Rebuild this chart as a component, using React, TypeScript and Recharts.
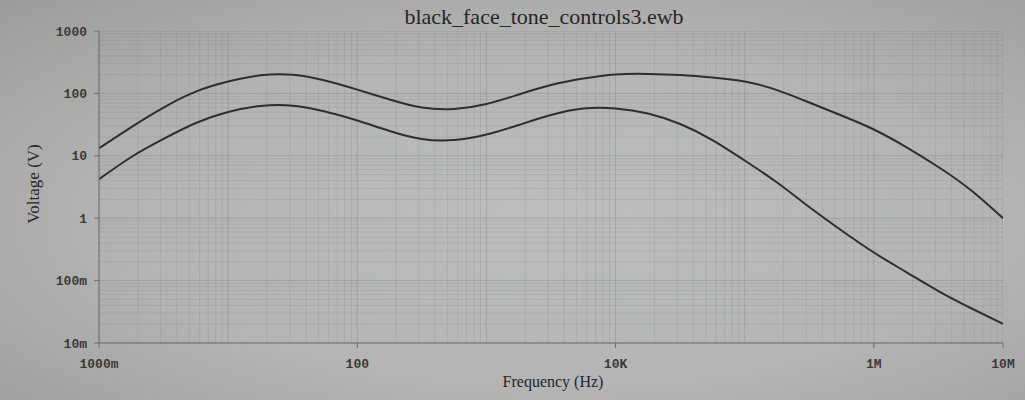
import { LineChart, Line, XAxis, YAxis, ReferenceLine } from "recharts";

// quarter-decade frequency points (Hz) and the two voltage traces
const freqs = [
  1, 1.78, 3.16, 5.62, 10, 17.8, 31.6, 56.2, 100, 178, 316, 562, 1000, 1780, 3160, 5620,
  1e4, 1.78e4, 3.16e4, 5.62e4, 1e5, 1.78e5, 3.16e5, 5.62e5, 1e6, 1.78e6, 3.16e6, 5.62e6, 1e7,
];
const upperV = [
  13.2, 28.9, 59.4, 107, 155, 195, 199, 161, 115, 79.8, 59.4, 56.2, 67.6, 96, 136, 173,
  201, 205, 197, 180, 155, 113, 71.5, 44.3, 26.4, 13.8, 6.61, 2.83, 1.0,
];
const lowerV = [
  4.2, 9.57, 18.6, 33.5, 50.3, 62.8, 63.5, 51.3, 36.8, 25, 18.6, 17.9, 21.9, 31.2, 45.1, 57.3,
  57.3, 47.6, 32.3, 17.9, 8.41, 3.73, 1.51, 0.635, 0.282, 0.137, 0.068, 0.0364, 0.0202,
];

const xTicks = [1, 100, 1e4, 1e6, 1e7];
const xTickLabels = ["1000m", "100", "10K", "1M", "10M"];
const yTicks = [0.01, 0.1, 1, 10, 100, 1000];
const yTickLabels = ["10m", "100m", "1", "10", "100", "1000"];

const data = freqs.map((f, i) => ({ f, upper: upperV[i], lower: lowerV[i] }));

// log grid: every 1..9 step inside each decade
function logGrid(fromExp: number, toExp: number) {
  const out: number[] = [];
  for (let e = fromExp; e < toExp; e++) {
    for (let k = 1; k <= 9; k++) out.push(+(k * Math.pow(10, e)).toPrecision(3));
  }
  out.push(Math.pow(10, toExp));
  return out;
}
const xGrid = logGrid(0, 7);
const yGrid = logGrid(-2, 3);

const isDecade = (v: number) => Math.abs(Math.log10(v) - Math.round(Math.log10(v))) < 1e-6;

const tickStyle = { fill: "#3a3a3a", fontSize: 13, fontFamily: "'Liberation Mono', monospace", fontWeight: 700 };

export default function App() {
  return (
    <div
      style={{
        position: "absolute",
        left: 0,
        top: 0,
        width: 1025,
        height: 400,
        background: "radial-gradient(ellipse at 55% 55%, #bdbfbe 0%, #b3b4b3 55%, #9c9c9b 100%)",
        fontFamily: "'Liberation Serif', serif",
      }}
    >
      <div style={{ position: "absolute", left: 0, width: 1088, top: 4, textAlign: "center", fontSize: 22, color: "#262626" }}>
        black_face_tone_controls3.ewb
      </div>
      <div style={{ position: "absolute", left: 0, width: 1106, top: 373, textAlign: "center", fontSize: 16, color: "#262626" }}>
        Frequency (Hz)
      </div>
      <div
        style={{
          position: "absolute",
          left: 34,
          top: 184,
          transform: "translate(-50%, -50%) rotate(-90deg)",
          fontSize: 17,
          color: "#262626",
          whiteSpace: "nowrap",
        }}
      >
        Voltage (V)
      </div>
      <LineChart width={1025} height={400} data={data} margin={{ top: 31, right: 22, left: 39, bottom: 17 }} style={{ position: "absolute", left: 0, top: 0 }}>
        {xGrid.map((v) => (
          <ReferenceLine key={"x" + v} x={v} stroke="#6f7171" strokeOpacity={isDecade(v) ? 0.3 : 0.17} strokeWidth={1} ifOverflow="hidden" />
        ))}
        {yGrid.map((v) => (
          <ReferenceLine key={"y" + v} y={v} stroke="#6f7171" strokeOpacity={isDecade(v) ? 0.3 : 0.17} strokeWidth={1} ifOverflow="hidden" />
        ))}
        <XAxis
          dataKey="f"
          type="number"
          scale="log"
          domain={[1, 1e7]}
          ticks={xTicks}
          tickFormatter={(v: number) => xTickLabels[xTicks.indexOf(v)] ?? ""}
          tick={tickStyle}
          tickSize={5}
          tickMargin={11}
          height={40}
          stroke="#6a6a6a"
          allowDataOverflow
        />
        <YAxis
          type="number"
          scale="log"
          domain={[0.01, 1000]}
          ticks={yTicks}
          tickFormatter={(v: number) => yTickLabels[yTicks.indexOf(v)] ?? ""}
          tick={tickStyle}
          tickSize={5}
          tickMargin={7}
          width={60}
          stroke="#6a6a6a"
          allowDataOverflow
        />
        <Line type="natural" dataKey="upper" stroke="#2e2e2e" strokeWidth={2} dot={false} isAnimationActive={false} />
        <Line type="natural" dataKey="lower" stroke="#2e2e2e" strokeWidth={2} dot={false} isAnimationActive={false} />
      </LineChart>
    </div>
  );
}
